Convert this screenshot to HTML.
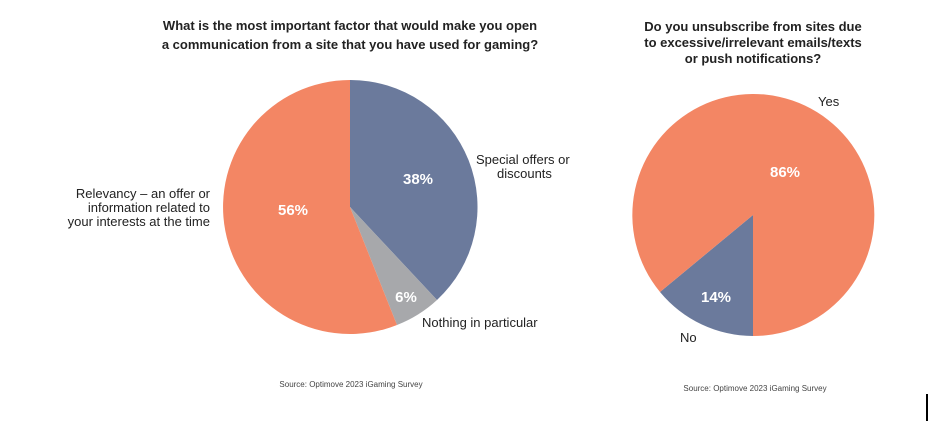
<!DOCTYPE html>
<html><head><meta charset="utf-8"><style>
body{margin:0;background:#fff;}
svg{display:block;font-family:"Liberation Sans",sans-serif;}
</style></head><body>
<svg width="929" height="428" viewBox="0 0 929 428" xmlns="http://www.w3.org/2000/svg">
<rect width="929" height="428" fill="#fff"/>
<g font-weight="bold" font-size="13" fill="#222" text-anchor="middle">
<text x="350" y="30">What is the most important factor that would make you open</text>
<text x="350" y="49">a communication from a site that you have used for gaming?</text>
<text x="753" y="31">Do you unsubscribe from sites due</text>
<text x="753" y="47">to excessive/irrelevant emails/texts</text>
<text x="753" y="63">or push notifications?</text>
</g>
<!-- left pie -->
<path d="M350,207 L350,80 A127,127 0 0,1 437,300 Z" fill="#6b7a9c"/>
<path d="M350,207 L437,300 A127,127 0 0,1 397,325 Z" fill="#a7a8ab"/>
<path d="M350,207 L397,325 A127,127 0 1,1 350,80 Z" fill="#f38664"/>
<!-- right pie -->
<path d="M753,215 L753,336 A121,121 0 0,1 660,292 Z" fill="#6b7a9c"/>
<path d="M753,215 L660,292 A121,121 0 1,1 753,336 Z" fill="#f38664"/>
<g font-weight="bold" font-size="15" fill="#fff" text-anchor="middle">
<text x="293" y="215">56%</text>
<text x="418" y="184">38%</text>
<text x="406" y="302">6%</text>
<text x="785" y="177">86%</text>
<text x="716" y="302">14%</text>
</g>
<g font-size="13" fill="#222">
<text x="476" y="164">Special offers or</text>
<text x="497" y="178">discounts</text>
<text x="422" y="327">Nothing in particular</text>
<text x="210" y="198" text-anchor="end">Relevancy – an offer or</text>
<text x="210" y="212" text-anchor="end">information related to</text>
<text x="210" y="226" text-anchor="end">your interests at the time</text>
<text x="818" y="106">Yes</text>
<text x="680" y="342">No</text>
</g>
<g font-size="8" fill="#444" text-anchor="middle">
<text x="351" y="387">Source: Optimove 2023 iGaming Survey</text>
<text x="755" y="391">Source: Optimove 2023 iGaming Survey</text>
</g>
<rect x="926" y="394" width="2" height="27" fill="#000"/>
</svg>
</body></html>
